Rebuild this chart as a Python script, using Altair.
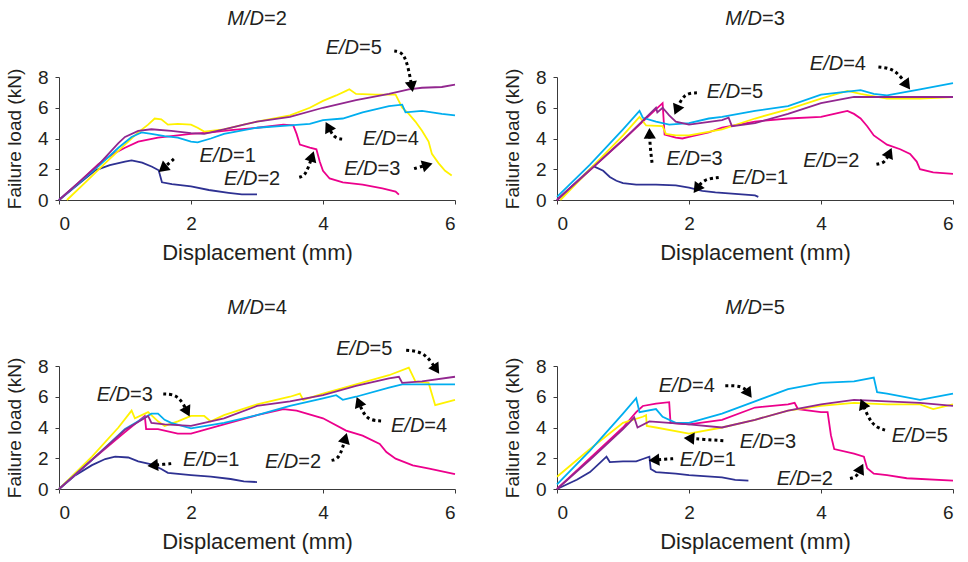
import math
import altair as alt
import pandas as pd

FONT = "Liberation Sans"
TEXT_COLOR = "#231F20"
ED_LABELS = ["1", "2", "3", "4", "5"]
ED_COLORS = ["#2E3192", "#EC008C", "#FFF200", "#00AEEF", "#92278F"]
X_TICKS = [0, 2, 4, 6]
Y_TICKS = [0, 2, 4, 6, 8]
X_TITLE = "Displacement (mm)"
Y_TITLE = "Failure load (kN)"

# ---------------- M/D = 2 ----------------
MD2_ED1 = [(0, 0), (0.3, 1.05), (0.55, 1.93), (0.77, 2.27), (1.0, 2.5), (1.1, 2.58), (1.26, 2.43),
           (1.41, 2.16), (1.51, 1.93), (1.56, 1.15), (1.71, 1.03), (2.0, 0.88), (2.27, 0.65),
           (2.57, 0.47), (2.77, 0.36), (3.0, 0.36)]
MD2_ED2 = [(0, 0), (0.3, 1.15), (0.6, 2.35), (0.8, 2.95), (1.0, 3.4), (1.2, 3.8), (1.5, 4.05),
           (1.8, 4.2), (2.0, 4.3), (2.3, 4.4), (2.6, 4.55), (3.0, 4.7), (3.4, 4.9), (3.55, 4.85),
           (3.6, 4.3), (3.65, 3.6), (3.8, 3.4), (3.9, 3.3), (3.95, 2.5), (4.0, 1.9), (4.1, 1.4),
           (4.3, 1.15), (4.6, 1.0), (4.9, 0.75), (5.1, 0.55), (5.15, 0.35)]
MD2_ED3 = [(0.12, 0), (0.4, 1.15), (0.7, 2.4), (1.0, 3.6), (1.2, 4.4), (1.35, 4.9), (1.45, 5.3),
           (1.55, 5.25), (1.65, 4.9), (1.8, 4.95), (2.0, 4.9), (2.1, 4.7), (2.2, 4.45), (2.5, 4.6),
           (2.8, 4.9), (3.0, 5.1), (3.5, 5.5), (3.8, 6.0), (4.0, 6.45), (4.2, 6.8), (4.35, 7.1),
           (4.4, 7.2), (4.5, 6.9), (4.8, 6.85), (5.1, 6.85), (5.2, 6.0), (5.3, 5.6), (5.4, 5.1),
           (5.5, 4.5), (5.6, 3.8), (5.65, 3.0), (5.75, 2.4), (5.85, 1.9), (5.95, 1.6)]
MD2_ED4 = [(0, 0), (0.3, 1.1), (0.6, 2.2), (0.9, 3.4), (1.1, 4.1), (1.25, 4.4), (1.4, 4.3),
           (1.6, 4.15), (1.8, 4.05), (2.0, 3.8), (2.1, 3.75), (2.3, 4.0), (2.5, 4.3), (2.8, 4.55),
           (3.0, 4.7), (3.5, 4.85), (3.8, 4.95), (4.0, 5.2), (4.3, 5.3), (4.6, 5.7), (5.0, 6.1),
           (5.2, 6.2), (5.25, 5.7), (5.5, 5.8), (5.8, 5.6), (6.0, 5.5)]
MD2_ED5 = [(0, 0), (0.3, 1.15), (0.6, 2.3), (0.9, 3.7), (1.0, 4.1), (1.2, 4.5), (1.4, 4.6),
           (1.7, 4.5), (2.0, 4.35), (2.2, 4.3), (2.5, 4.6), (2.8, 4.9), (3.0, 5.1), (3.5, 5.4),
           (4.0, 6.0), (4.5, 6.5), (5.0, 6.9), (5.3, 7.2), (5.5, 7.3), (5.8, 7.35), (6.0, 7.5)]

# ---------------- M/D = 3 ----------------
MD3_ED1 = [(0, 0), (0.3, 1.2), (0.55, 2.2), (0.7, 1.9), (0.8, 1.5), (0.9, 1.25), (1.0, 1.1),
           (1.2, 1.0), (1.5, 1.0), (1.8, 0.95), (2.0, 0.8), (2.2, 0.6), (2.4, 0.5), (2.7, 0.4),
           (3.0, 0.3), (3.05, 0.2)]
MD3_ED2 = [(0, 0), (0.5, 1.95), (1.0, 3.9), (1.4, 5.5), (1.6, 6.3), (1.63, 4.25), (1.8, 4.05),
           (1.9, 4.0), (2.0, 4.1), (2.3, 4.4), (2.5, 4.7), (3.0, 5.1), (3.5, 5.3), (4.0, 5.4),
           (4.3, 5.7), (4.4, 5.8), (4.5, 5.6), (4.6, 5.3), (4.7, 4.8), (4.8, 4.2), (5.0, 3.6),
           (5.2, 3.3), (5.35, 3.0), (5.45, 2.5), (5.5, 2.0), (5.7, 1.8), (6.0, 1.7)]
MD3_ED3 = [(0.05, 0), (0.5, 2.0), (1.0, 4.2), (1.25, 5.4), (1.35, 4.85), (1.6, 4.8), (1.65, 4.3),
           (1.8, 4.2), (2.0, 4.2), (2.5, 4.6), (3.0, 5.3), (3.5, 5.9), (4.0, 6.6), (4.4, 7.1),
           (4.6, 6.9), (5.0, 6.6), (5.5, 6.6), (6.0, 6.7)]
MD3_ED4 = [(0, 0.2), (0.5, 2.3), (1.0, 4.6), (1.25, 5.8), (1.3, 5.35), (1.5, 5.1), (1.7, 4.9),
           (2.0, 5.0), (2.3, 5.3), (2.5, 5.4), (3.0, 5.8), (3.5, 6.1), (4.0, 6.85), (4.3, 7.0),
           (4.6, 7.15), (4.8, 6.9), (5.0, 6.8), (5.5, 7.2), (6.0, 7.6)]
MD3_ED5 = [(0, 0), (0.5, 1.95), (1.0, 3.9), (1.5, 6.0), (1.52, 5.7), (1.6, 6.0), (1.7, 5.5),
           (1.8, 5.1), (2.0, 4.9), (2.5, 5.2), (2.6, 5.35), (2.65, 4.8), (3.0, 5.0), (3.5, 5.6),
           (4.0, 6.3), (4.5, 6.7), (5.0, 6.7), (5.5, 6.7), (6.0, 6.7)]

# ---------------- M/D = 4 ----------------
MD4_ED1 = [(0, 0), (0.25, 0.9), (0.5, 1.55), (0.7, 1.95), (0.85, 2.1), (1.05, 2.05), (1.2, 1.8),
           (1.4, 1.6), (1.55, 1.3), (1.65, 1.05), (2.0, 0.9), (2.3, 0.8), (2.6, 0.65), (2.8, 0.5),
           (3.0, 0.45)]
MD4_ED2 = [(0, 0), (0.5, 1.9), (1.0, 3.7), (1.3, 4.75), (1.32, 3.9), (1.5, 3.9), (1.8, 3.6),
           (2.0, 3.6), (2.5, 4.2), (3.0, 4.8), (3.4, 5.2), (3.6, 5.1), (4.0, 4.6), (4.35, 3.8),
           (4.6, 3.47), (4.86, 2.93), (4.96, 2.4), (5.1, 1.97), (5.36, 1.54), (5.61, 1.33),
           (6.0, 0.96)]
MD4_ED3 = [(0, 0), (0.5, 2.1), (0.9, 4.0), (1.1, 5.1), (1.15, 4.6), (1.35, 5.0), (1.5, 4.4),
           (1.6, 4.1), (1.8, 4.4), (2.0, 4.75), (2.2, 4.75), (2.3, 4.4), (2.5, 4.8), (3.0, 5.5),
           (3.5, 6.0), (3.65, 6.2), (3.7, 5.8), (4.0, 6.2), (4.5, 6.8), (5.0, 7.4), (5.3, 7.9),
           (5.4, 7.0), (5.6, 6.9), (5.7, 5.45), (6.0, 5.8)]
MD4_ED4 = [(0, 0), (0.5, 1.9), (1.0, 3.9), (1.2, 4.4), (1.4, 4.9), (1.5, 4.9), (1.6, 4.5),
           (1.7, 4.3), (2.0, 3.95), (2.5, 4.3), (3.0, 4.8), (3.5, 5.4), (4.0, 5.9), (4.2, 6.1),
           (4.3, 5.8), (4.5, 6.0), (5.0, 6.6), (5.2, 6.8), (6.0, 6.8)]
MD4_ED5 = [(0, 0), (0.5, 1.9), (1.0, 3.85), (1.35, 4.75), (1.4, 4.3), (1.6, 4.2), (2.0, 4.1),
           (2.5, 4.6), (3.0, 5.4), (3.5, 5.7), (4.0, 6.1), (4.5, 6.7), (5.0, 7.2), (5.15, 7.3),
           (5.2, 6.9), (5.5, 7.0), (6.0, 7.3)]

# ---------------- M/D = 5 ----------------
MD5_ED1 = [(0, 0), (0.3, 0.6), (0.5, 1.1), (0.65, 1.7), (0.75, 2.1), (0.8, 1.75), (1.0, 1.8),
           (1.2, 1.8), (1.3, 1.95), (1.4, 2.1), (1.42, 1.3), (1.5, 1.1), (1.8, 1.0), (2.0, 0.9),
           (2.5, 0.75), (2.7, 0.6), (2.9, 0.55)]
MD5_ED2 = [(0, 0), (0.5, 2.0), (1.0, 4.0), (1.2, 5.0), (1.3, 5.4), (1.5, 5.55), (1.7, 5.65),
           (1.72, 4.3), (2.0, 4.2), (2.5, 4.5), (3.0, 5.3), (3.5, 5.5), (3.6, 5.6), (3.65, 5.2),
           (4.0, 5.0), (4.1, 5.0), (4.15, 3.5), (4.2, 2.6), (4.5, 2.3), (4.65, 2.1), (4.7, 1.35),
           (4.8, 1.0), (5.0, 0.9), (5.3, 0.7), (6.0, 0.55)]
MD5_ED3 = [(0, 0.8), (0.5, 2.6), (1.0, 4.3), (1.3, 4.7), (1.35, 4.8), (1.36, 4.1), (1.5, 4.0),
           (2.0, 3.6), (2.5, 4.0), (3.0, 4.5), (3.5, 5.1), (4.0, 5.4), (4.5, 5.6), (5.0, 5.5),
           (5.5, 5.5), (5.7, 5.2), (6.0, 5.5)]
MD5_ED4 = [(0, 0.3), (0.5, 2.5), (1.0, 4.9), (1.2, 5.9), (1.25, 5.0), (1.5, 5.2), (1.6, 4.7),
           (1.8, 4.3), (2.0, 4.3), (2.5, 4.9), (3.0, 5.7), (3.5, 6.5), (4.0, 6.9), (4.5, 7.0),
           (4.8, 7.25), (4.85, 6.3), (5.0, 6.2), (5.5, 5.8), (6.0, 6.2)]
MD5_ED5 = [(0, 0), (0.5, 1.9), (1.0, 3.9), (1.17, 4.65), (1.22, 4.0), (1.4, 4.4), (2.0, 4.2),
           (2.5, 4.0), (3.0, 4.5), (3.5, 5.1), (4.0, 5.5), (4.5, 5.8), (5.0, 5.7), (5.5, 5.6),
           (6.0, 5.4)]

# Annotations: (E/D label, text centre x, text centre y, arrow tail, arrow bend, arrow tip)
MD2_NOTES = [("5", 4.47, 9.9, (5.08, 9.69), (5.25, 9.6), (5.36, 7.03)),
             ("4", 5.03, 3.96, (4.29, 3.96), (4.17, 4.02), (4.04, 5.08)),
             ("1", 2.56, 2.85, (1.74, 2.67), (1.63, 2.25), (1.51, 1.82)),
             ("2", 2.93, 1.35, (3.64, 1.48), (3.74, 1.6), (3.86, 3.17)),
             ("3", 4.75, 2.04, (5.38, 2.04), (5.52, 2.21), (5.66, 2.38))]
MD3_NOTES = [("4", 4.26, 8.86, (4.87, 8.65), (5.12, 8.54), (5.35, 7.19)),
             ("5", 2.7, 7.04, (2.12, 6.97), (1.92, 6.93), (1.78, 5.54)),
             ("3", 2.09, 2.64, (1.44, 2.42), (1.41, 3.5), (1.40, 4.68)),
             ("1", 3.08, 1.46, (2.45, 1.46), (2.22, 1.35), (2.07, 0.45)),
             ("2", 4.16, 2.53, (4.84, 2.32), (4.97, 2.42), (5.07, 3.39))]
MD4_NOTES = [("5", 4.63, 9.13, (5.26, 9.03), (5.54, 8.92), (5.76, 7.49)),
             ("3", 1.0, 6.14, (1.58, 6.18), (1.81, 6.14), (1.98, 4.71)),
             ("4", 5.46, 4.11, (4.88, 4.43), (4.65, 4.49), (4.51, 5.99)),
             ("1", 2.31, 1.86, (1.70, 1.65), (1.52, 1.58), (1.34, 1.50)),
             ("2", 3.55, 1.75, (4.13, 1.86), (4.25, 1.97), (4.36, 3.64))]
MD5_NOTES = [("4", 1.97, 6.67, (2.55, 6.72), (2.82, 6.72), (2.95, 5.93)),
             ("3", 3.2, 3.04, (2.52, 3.14), (2.22, 3.23), (1.92, 3.32)),
             ("1", 2.29, 1.86, (1.76, 1.97), (1.57, 1.92), (1.39, 1.86)),
             ("5", 5.5, 3.47, (4.97, 3.83), (4.77, 4.11), (4.6, 5.86)),
             ("2", 3.76, 0.68, (4.44, 0.68), (4.54, 0.79), (4.64, 1.65))]

PANELS = [("2", [MD2_ED1, MD2_ED2, MD2_ED3, MD2_ED4, MD2_ED5], MD2_NOTES),
          ("3", [MD3_ED1, MD3_ED2, MD3_ED3, MD3_ED4, MD3_ED5], MD3_NOTES),
          ("4", [MD4_ED1, MD4_ED2, MD4_ED3, MD4_ED4, MD4_ED5], MD4_NOTES),
          ("5", [MD5_ED1, MD5_ED2, MD5_ED3, MD5_ED4, MD5_ED5], MD5_NOTES)]

W, H = 396, 123
PX = W / 6.0
PY = H / 8.0
HEAD_SIZE = 150
HEAD_BACK = 0.866 * math.sqrt(HEAD_SIZE) / 2


def enc_xy():
    xs = alt.Scale(domain=[0, 6], nice=False, zero=False)
    ys = alt.Scale(domain=[0, 8], nice=False, zero=False)
    x = alt.X("x:Q", scale=xs, axis=alt.Axis(values=X_TICKS, title=X_TITLE, format="d"))
    y = alt.Y("y:Q", scale=ys, axis=alt.Axis(values=Y_TICKS, title=Y_TITLE, format="d"))
    return x, y


def panel(md, series, notes):
    rows = []
    for lab, pts in zip(ED_LABELS, series):
        for k, (x, y) in enumerate(pts):
            rows.append({"x": x, "y": y, "ed": lab, "k": k})
    df = pd.DataFrame(rows)

    arr, heads, txt = [], [], []
    for n, (lab, tx, ty, tail, bend, tip) in enumerate(notes):
        ux = (tip[0] - bend[0]) * PX
        uy = -(tip[1] - bend[1]) * PY
        ln = math.hypot(ux, uy)
        ux, uy = ux / ln, uy / ln
        cx = tip[0] - ux * HEAD_BACK / PX
        cy = tip[1] + uy * HEAD_BACK / PY
        ang = math.degrees(math.atan2(ux, -uy)) % 360
        for k, p in enumerate([tail, bend, (cx, cy)]):
            arr.append({"x": p[0], "y": p[1], "a": n, "k": k})
        heads.append({"x": cx, "y": cy, "angle": ang})
        txt.append({"x": tx, "y": ty, "lhs": "E/D", "rhs": "=" + lab})
    adf, hdf, tdf = pd.DataFrame(arr), pd.DataFrame(heads), pd.DataFrame(txt)

    x, y = enc_xy()
    lines = alt.Chart(df).mark_line(strokeWidth=1.8).encode(
        x=x, y=y,
        color=alt.Color("ed:N", scale=alt.Scale(domain=ED_LABELS, range=ED_COLORS), legend=None),
        order="k:Q")
    arrows = alt.Chart(adf).mark_line(interpolate="basis", strokeDash=[3, 3], strokeWidth=3,
                                      strokeCap="butt", color="black").encode(
        x=x, y=y, detail="a:N", order="k:Q")
    heads_c = alt.Chart(hdf).mark_point(shape="triangle-up", filled=True, size=HEAD_SIZE,
                                        color="black", opacity=1).encode(
        x=x, y=y, angle=alt.Angle("angle:Q", scale=None))
    t_l = alt.Chart(tdf).mark_text(font=FONT, fontSize=20, fontStyle="italic", align="right",
                                   baseline="middle", dx=5, color=TEXT_COLOR).encode(
        x=x, y=y, text="lhs:N")
    t_r = alt.Chart(tdf).mark_text(font=FONT, fontSize=20, align="left",
                                   baseline="middle", dx=5, color=TEXT_COLOR).encode(
        x=x, y=y, text="rhs:N")
    ttl = pd.DataFrame({"lhs": ["M/D"], "rhs": ["=" + md]})
    h_l = alt.Chart(ttl).mark_text(font=FONT, fontSize=20, fontStyle="italic", align="right",
                                   baseline="alphabetic", color=TEXT_COLOR).encode(
        x=alt.value(W / 2 + 7), y=alt.value(-52), text="lhs:N")
    h_r = alt.Chart(ttl).mark_text(font=FONT, fontSize=20, align="left",
                                   baseline="alphabetic", color=TEXT_COLOR).encode(
        x=alt.value(W / 2 + 7), y=alt.value(-52), text="rhs:N")
    return alt.layer(lines, arrows, heads_c, t_l, t_r, h_l, h_r).properties(width=W, height=H)


charts = [panel(md, s, n) for md, s, n in PANELS]
chart = alt.concat(*charts, columns=2, spacing={"row": 166, "column": 102}, bounds="flush").properties(
    padding={"left": 5, "top": 9, "right": 5, "bottom": 5}
).configure_view(stroke=None).configure_axis(
    labelFont=FONT, titleFont=FONT, labelColor=TEXT_COLOR, titleColor=TEXT_COLOR,
    domainColor="#3a3a3a", tickColor="#3a3a3a", domainWidth=1, tickWidth=1, tickSize=4,
    grid=False, titleFontWeight="normal", labelFontSize=19
).configure_axisX(
    titleFontSize=22, labelPadding=10, titlePadding=9
).configure_axisY(
    titleFontSize=19, labelPadding=7, titlePadding=13
)

chart.save("out.html", embed_options={"renderer": "svg", "actions": False})
